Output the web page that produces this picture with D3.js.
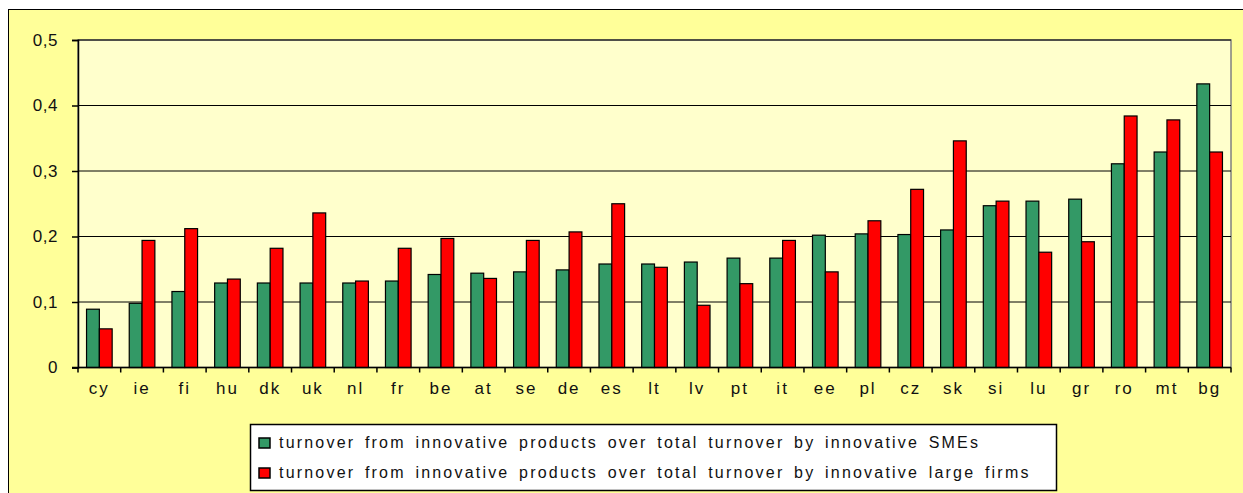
<!DOCTYPE html>
<html>
<head>
<meta charset="utf-8">
<script src="https://cdn.jsdelivr.net/npm/d3@7"></script>
<style>
  body { margin: 0; background: #fff; }
  text { font-family: "Liberation Sans", Arial, sans-serif; fill: #111; }
</style>
</head>
<body>
<div class="canva"></div>
<script>
const countries = ["cy","ie","fi","hu","dk","uk","nl","fr","be","at","se","de","es","lt","lv","pt","it","ee","pl","cz","sk","si","lu","gr","ro","mt","bg"];
const smes = [0.089,0.098,0.116,0.129,0.129,0.129,0.129,0.132,0.142,0.144,0.146,0.149,0.158,0.158,0.161,0.167,0.167,0.202,0.204,0.203,0.21,0.247,0.254,0.257,0.311,0.329,0.433];
const large = [0.059,0.194,0.212,0.135,0.182,0.236,0.132,0.182,0.197,0.136,0.194,0.207,0.25,0.153,0.095,0.128,0.194,0.146,0.224,0.272,0.346,0.254,0.176,0.192,0.384,0.378,0.329];
const yTicks = [0, 0.1, 0.2, 0.3, 0.4, 0.5];
const seriesNames = [
  "turnover from innovative products over total turnover by innovative SMEs",
  "turnover from innovative products over total turnover by innovative large firms"
];
const colors = ["#339966", "#ff0000"];

const width = 1243, height = 493;
const plot = {left: 78, top: 40, right: 1231, bottom: 367.5};

const svg = d3.select(".canva").append("svg")
    .attr("width", width)
    .attr("height", height);

// outer chart area (cropped on the right and bottom)
svg.append("rect")
    .attr("x", 8.5).attr("y", 9.5)
    .attr("width", width).attr("height", height)
    .attr("fill", "#ffff99")
    .attr("stroke", "#000");

svg.append("rect")
    .attr("x", plot.left).attr("y", plot.top)
    .attr("width", plot.right - plot.left).attr("height", plot.bottom - plot.top)
    .attr("fill", "#ffffcc")
    .attr("stroke", "#808080")
    .attr("stroke-width", 1.5);

const x0 = d3.scaleBand()
    .domain(countries)
    .range([plot.left, plot.right])
    .paddingInner(0.4)
    .paddingOuter(0.2);

const x1 = d3.scaleBand()
    .domain([0, 1])
    .range([0, x0.bandwidth()]);

const y = d3.scaleLinear()
    .domain([0, 0.5])
    .range([plot.bottom, plot.top]);

// gridlines
svg.append("g")
    .selectAll("line")
    .data(yTicks.slice(1))
    .enter()
    .append("line")
    .attr("x1", plot.left).attr("x2", plot.right)
    .attr("y1", d => y(d)).attr("y2", d => y(d))
    .attr("stroke", "#000")
    .attr("stroke-width", 1);

// bars
const groups = svg.append("g")
    .selectAll("g")
    .data(countries)
    .enter()
    .append("g")
    .attr("transform", d => `translate(${x0(d)},0)`);

groups.selectAll("rect")
    .data((d, i) => [smes[i], large[i]])
    .enter()
    .append("rect")
    .attr("x", (d, j) => x1(j))
    .attr("y", d => y(d))
    .attr("width", x1.bandwidth())
    .attr("height", d => plot.bottom - y(d))
    .attr("fill", (d, j) => colors[j])
    .attr("stroke", "#000")
    .attr("stroke-width", 1.2);

// y axis
const yAxis = svg.append("g")
    .attr("transform", `translate(${plot.left},0)`)
    .call(d3.axisLeft(y).tickValues(yTicks).tickSize(6).tickPadding(14)
        .tickFormat(d => d === 0 ? "0" : d3.format(".1f")(d).replace(".", ",")));
yAxis.select(".domain").attr("stroke", "#000").attr("stroke-width", 1.5);
yAxis.selectAll(".tick line").attr("stroke", "#000").attr("stroke-width", 1.5);
yAxis.selectAll("text").style("font-size", "17px").attr("letter-spacing", "0.5px");

// x axis with ticks on category boundaries
const xAxis = svg.append("g")
    .attr("transform", `translate(0,${plot.bottom})`);
xAxis.append("line")
    .attr("x1", plot.left - 6).attr("x2", plot.right)
    .attr("stroke", "#000").attr("stroke-width", 1.5);
const step = x0.step();
xAxis.selectAll(".tk")
    .data(d3.range(countries.length + 1))
    .enter()
    .append("line")
    .attr("x1", i => plot.left + i * step)
    .attr("x2", i => plot.left + i * step)
    .attr("y1", 0).attr("y2", 5)
    .attr("stroke", "#000").attr("stroke-width", 1.5);
xAxis.selectAll("text")
    .data(countries)
    .enter()
    .append("text")
    .attr("x", d => x0(d) + x0.bandwidth() / 2)
    .attr("y", 26)
    .attr("text-anchor", "middle")
    .attr("letter-spacing", "2px")
    .style("font-size", "17px")
    .text(d => d);

// legend
const legend = svg.append("g");
legend.append("rect")
    .attr("x", 250.5).attr("y", 424.5)
    .attr("width", 806).attr("height", 66)
    .attr("fill", "#fff")
    .attr("stroke", "#000")
    .attr("stroke-width", 1.5);
const items = legend.selectAll("g")
    .data(seriesNames)
    .enter()
    .append("g")
    .attr("transform", (d, i) => `translate(259,${448 + i * 30})`);
items.append("rect")
    .attr("x", 0).attr("y", -10)
    .attr("width", 11).attr("height", 10)
    .attr("fill", (d, i) => colors[i])
    .attr("stroke", "#000")
    .attr("stroke-width", 1.5);
items.append("text")
    .attr("x", 20).attr("y", 0)
    .attr("letter-spacing", "2.2px")
    .attr("word-spacing", "3px")
    .style("font-size", "16px")
    .text(d => d);
</script>
</body>
</html>
